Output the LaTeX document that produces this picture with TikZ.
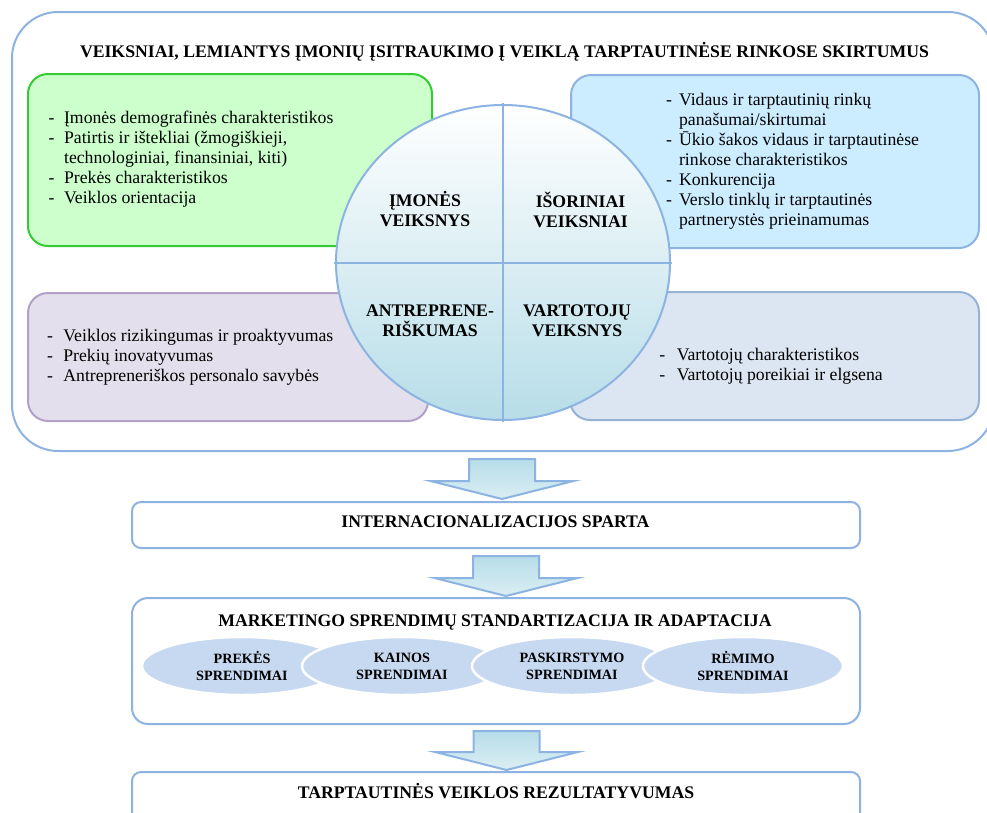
\documentclass[tikz,border=0pt]{standalone}
\usepackage{fontspec}
\setmainfont{Liberation Serif}
\usetikzlibrary{shapes.geometric}
\begin{document}
\begin{tikzpicture}[x=1pt,y=-1pt,line cap=rect]
	\def\itemfont{\fontsize{17.7pt}{20pt}\selectfont} % list text in the factor boxes
	\def\headfont{\fontsize{17.7pt}{20pt}\selectfont\bfseries}
	\def\ovalfont{\fontsize{14.2pt}{17pt}\selectfont\bfseries}
	\definecolor{custcol_8d_b3_e2}{RGB}{141, 179, 226}
	\definecolor{custcol_cc_ff_cc}{RGB}{204, 255, 204}
	\definecolor{custcol_33_cc_33}{RGB}{51, 204, 51}
	\definecolor{custcol_cc_ec_ff}{RGB}{204, 236, 255}
	\definecolor{custcol_e4_df_ec}{RGB}{228, 223, 236}
	\definecolor{custcol_b2_a1_c7}{RGB}{178, 161, 199}
	\definecolor{custcol_dc_e6_f2}{RGB}{220, 230, 242}
	\definecolor{custcol_95_b3_d7}{RGB}{149, 179, 215}
	\definecolor{custcol_c6_d9_f1}{RGB}{198, 217, 241}
	\definecolor{custcol_b7_dd_e8}{RGB}{183, 221, 232}
	\definecolor{custcol_da_ee_f3}{RGB}{218, 238, 243}
	\tikzset{
		panel/.style={rectangle, rounded corners=#1, line width=2.0pt, inner sep=0, outer sep=0},
		panel/.default=20pt,
		itemtext/.style={inner sep=0, outer sep=0, anchor=base west, font=\itemfont},
		headtext/.style={inner sep=0, outer sep=0, font=\headfont, align=center},
		oval/.style={ellipse, fill=custcol_c6_d9_f1, draw=white, line width=2.5pt, minimum width=200pt, minimum height=58pt, inner sep=0, align=center, font=\ovalfont}
	}
	% block arrow: x of axis, top of shaft, tip
	\def\flowarrow#1#2#3{\shadedraw [line width=2.0pt, line join=miter, draw=custcol_8d_b3_e2, top color=custcol_b7_dd_e8, bottom color=custcol_da_ee_f3]
		(#1-33,#2) -- (#1+33,#2) -- (#1+33,#3-18) -- (#1+71.5,#3-18) -- (#1,#3) -- (#1-71.5,#3-18) -- (#1-33,#3-18) -- cycle;}
	\useasboundingbox (0,0) rectangle (987,812);
	\fill [white] (0,0) rectangle (987,812);
	% factors
	\node[panel=46pt, draw=custcol_8d_b3_e2, minimum width=982pt, minimum height=439pt] (frame) at (503,231.5) {};
	\node[headtext, anchor=base] (title) at (504.5,57) {VEIKSNIAI, LEMIANTYS ĮMONIŲ ĮSITRAUKIMO Į VEIKLĄ TARPTAUTINĖSE RINKOSE SKIRTUMUS};
	\node[panel, draw=custcol_33_cc_33, fill=custcol_cc_ff_cc, minimum width=404pt, minimum height=172pt] (firmbox) at (230,160) {};
	\node[panel, draw=custcol_8d_b3_e2, fill=custcol_cc_ec_ff, minimum width=408pt, minimum height=173pt] (outerbox) at (775,161.5) {};
	\node[panel, draw=custcol_b2_a1_c7, fill=custcol_e4_df_ec, minimum width=400pt, minimum height=128pt] (entrebox) at (228,357) {};
	\node[panel, draw=custcol_95_b3_d7, fill=custcol_dc_e6_f2, minimum width=409pt, minimum height=128pt] (clientbox) at (774.5,356) {};
	\node[itemtext] (firmitems) at (48.6,123) {\begin{tabular}[t]{@{}l@{\hspace{9.6pt}}l@{}}
		- & Įmonės demografinės charakteristikos\\
		- & Patirtis ir ištekliai (žmogiškieji,\\
		  & technologiniai, finansiniai, kiti)\\
		- & Prekės charakteristikos\\
		- & Veiklos orientacija\end{tabular}};
	\node[itemtext] (outeritems) at (666,105) {\begin{tabular}[t]{@{}l@{\hspace{7.2pt}}l@{}}
		- & Vidaus ir tarptautinių rinkų\\
		  & panašumai/skirtumai\\
		- & Ūkio šakos vidaus ir tarptautinėse\\
		  & rinkose charakteristikos\\
		- & Konkurencija\\
		- & Verslo tinklų ir tarptautinės\\
		  & partnerystės prieinamumas\end{tabular}};
	\node[itemtext] (entreitems) at (47,341) {\begin{tabular}[t]{@{}l@{\hspace{10.5pt}}l@{}}
		- & Veiklos rizikingumas ir proaktyvumas\\
		- & Prekių inovatyvumas\\
		- & Antrepreneriškos personalo savybės\end{tabular}};
	\node[itemtext] (clientitems) at (659.3,360) {\begin{tabular}[t]{@{}l@{\hspace{11.6pt}}l@{}}
		- & Vartotojų charakteristikos\\
		- & Vartotojų poreikiai ir elgsena\end{tabular}};
	% wheel
	\node[ellipse, draw=custcol_8d_b3_e2, line width=2.0pt, top color=white, bottom color=custcol_b7_dd_e8, minimum width=334pt, minimum height=315pt, inner sep=0] (wheel) at (503,262.5) {};
	\draw [line width=2.0pt, custcol_8d_b3_e2] (wheel.north) -- (wheel.south);
	\draw [line width=2.0pt, custcol_8d_b3_e2] (wheel.west) -- (wheel.east);
	\node[headtext] (firmlabel) at (425,209.5) {ĮMONĖS\\VEIKSNYS};
	\node[headtext] (outerlabel) at (580.5,209.5) {IŠORINIAI\\VEIKSNIAI};
	\node[headtext] (entrelabel) at (430,321) {ANTREPRENE-\\RIŠKUMAS};
	\node[headtext] (clientlabel) at (577,321) {VARTOTOJŲ\\VEIKSNYS};
	% flow
	\node[panel=9pt, draw=custcol_8d_b3_e2, fill=white, minimum width=728pt, minimum height=46pt] (pace) at (496,525) {};
	\node[panel=16pt, draw=custcol_8d_b3_e2, fill=white, minimum width=728pt, minimum height=126pt] (mix) at (496,661) {};
	\node[panel=9pt, draw=custcol_8d_b3_e2, fill=white, minimum width=728pt, minimum height=100pt] (result) at (496,822) {};
	\flowarrow{502}{459}{499}
	\flowarrow{506}{556}{596}
	\flowarrow{506.5}{731}{770}
	\node[headtext, anchor=base] (pacetext) at (495.5,527) {INTERNACIONALIZACIJOS SPARTA};
	\node[headtext, anchor=base] (mixtext) at (495,626) {MARKETINGO SPRENDIMŲ STANDARTIZACIJA IR ADAPTACIJA};
	\node[headtext, anchor=base] (resulttext) at (496,798) {TARPTAUTINĖS VEIKLOS REZULTATYVUMAS};
	\node[oval] (product) at (242,666) {PREKĖS\\SPRENDIMAI};
	\node[oval] (price) at (402,666) {KAINOS\\SPRENDIMAI};
	\node[oval] (place) at (572,666) {PASKIRSTYMO\\SPRENDIMAI};
	\node[oval] (promo) at (743,666) {RĖMIMO\\SPRENDIMAI};
\end{tikzpicture}
\end{document}
